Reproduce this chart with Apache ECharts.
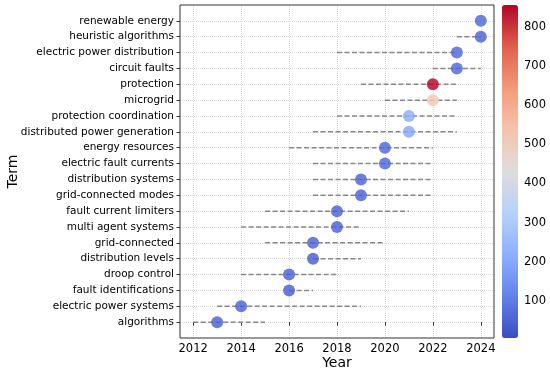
<!DOCTYPE html>
<html>
<head>
<meta charset="utf-8">
<script src="https://cdn.jsdelivr.net/npm/echarts@6/dist/echarts.min.js"></script>
<style>html,body{margin:0;padding:0;background:#fff}#c{width:550px;height:374px}</style>
</head>
<body>
<div id="c"></div>
<script>
// bottom to top
var terms = ['algorithms','electric power systems','fault identifications','droop control','distribution levels','grid-connected','multi agent systems','fault current limiters','grid-connected modes','distribution systems','electric fault currents','energy resources','distributed power generation','protection coordination','microgrid','protection','circuit faults','electric power distribution','heuristic algorithms','renewable energy'];
var peakYears = [2013,2014,2016,2016,2017,2017,2018,2018,2019,2019,2020,2020,2021,2021,2022,2022,2023,2023,2024,2024];
var startYears = [2012,2013,2016,2014,2017,2015,2014,2015,2017,2017,2017,2016,2017,2018,2020,2019,2022,2018,2023,2024];
var endYears = [2015,2019,2017,2018,2019,2020,2019,2021,2022,2022,2022,2022,2023,2023,2023,2023,2024,2023,2024,2024];
var counts = [50,50,40,50,40,50,50,50,50,50,60,60,200,210,520,856,60,60,50,60];
var xTicks = [2012,2014,2016,2018,2020,2022,2024];
var cbTicks = [100,200,300,400,500,600,700,800];

var coolwarm = ['#3b4cc0','#6282ea','#8db0fe','#b8d0f9','#dddddd','#f5c4ad','#f49a7b','#de604d','#b40426'];
var FONT = 'DejaVu Sans';

var yTicks = terms.map(function(t,i){ return i; });
var scatterData = terms.map(function(t,i){ return [peakYears[i], i, counts[i]]; });
var rangeData = terms.map(function(t,i){ return [startYears[i], endYears[i], i]; });

var chart = echarts.init(document.getElementById('c'), null, {renderer:'canvas'});
chart.setOption({
  animation:false,
  backgroundColor:'#fff',
  textStyle:{fontFamily:FONT},
  grid:[
    {left:180, right:56, top:5, bottom:36, show:true, borderColor:'#333', borderWidth:1, backgroundColor:'transparent', z:5, outerBoundsMode:'none', containLabel:false},
    {left:502, width:16, top:5, height:333, show:false, outerBoundsMode:'none', containLabel:false}
  ],
  xAxis:[
    {type:'value', gridIndex:0, min:2011.45, max:2024.55,
     name:'Year', nameLocation:'middle', nameGap:18, nameMoveOverlap:false, nameTextStyle:{fontSize:14, color:'#000', fontFamily:FONT},
     axisLine:{show:false},
     axisTick:{show:true, length:3.5, lineStyle:{color:'#333'}, customValues:xTicks},
     axisLabel:{fontSize:11.5, color:'#000', margin:5, customValues:xTicks, fontFamily:FONT,
       formatter:function(v){ return String(Math.round(v)); }},
     splitLine:{show:false}},
    {type:'value', gridIndex:1, show:false, min:0, max:1}
  ],
  yAxis:[
    {type:'value', gridIndex:0, min:-1, max:20, interval:1,
     name:'Term', nameLocation:'middle', nameGap:160, nameMoveOverlap:false, nameRotate:90, nameTextStyle:{fontSize:14, color:'#000', fontFamily:FONT},
     axisLine:{show:false},
     axisTick:{show:true, length:3.5, lineStyle:{color:'#333'}, customValues:yTicks},
     axisLabel:{fontSize:10.5, color:'#000', margin:6, fontFamily:FONT, customValues:yTicks,
       formatter:function(v){ var i=Math.round(v); return (i>=0 && i<terms.length)? terms[i] : ''; }},
     splitLine:{show:true, lineStyle:{color:'#dcdcdc', type:'dotted', width:1}}},
    {type:'value', gridIndex:1, position:'right', min:5, max:856,
     axisLine:{show:false},
     axisTick:{show:true, length:3.5, lineStyle:{color:'#333'}, customValues:cbTicks},
     axisLabel:{fontSize:11.5, color:'#000', margin:6, customValues:cbTicks, fontFamily:FONT},
     splitLine:{show:false}}
  ],
  visualMap:{
    type:'continuous', min:5, max:856, dimension:2, seriesIndex:2,
    left:497, top:0, itemWidth:16, itemHeight:333, padding:5,
    calculable:false, showLabel:false, realtime:false,
    inRange:{color:coolwarm}, textStyle:{color:'transparent'}
  },
  series:[
    {type:'line', xAxisIndex:0, yAxisIndex:0, data:[], silent:true, z:0,
     markLine:{silent:true, symbol:'none', label:{show:false}, z:0,
       lineStyle:{color:'#dcdcdc', type:'dotted', width:1},
       data: xTicks.map(function(v){ return {xAxis:v}; })}},
    {type:'custom', xAxisIndex:0, yAxisIndex:0, z:2,
     renderItem:function(params, api){
       var a = api.coord([api.value(0), api.value(2)]);
       var b = api.coord([api.value(1), api.value(2)]);
       return {type:'line', shape:{x1:a[0],y1:a[1],x2:b[0],y2:b[1]},
               style:{stroke:'#888888', lineWidth:1.5, lineDash:[5,2.5]}};
     },
     encode:{x:[0,1], y:2},
     data:rangeData},
    {type:'scatter', xAxisIndex:0, yAxisIndex:0, z:3, symbolSize:12,
     itemStyle:{opacity:0.82},
     encode:{x:0, y:1},
     data:scatterData}
  ]
});
</script>
</body>
</html>
